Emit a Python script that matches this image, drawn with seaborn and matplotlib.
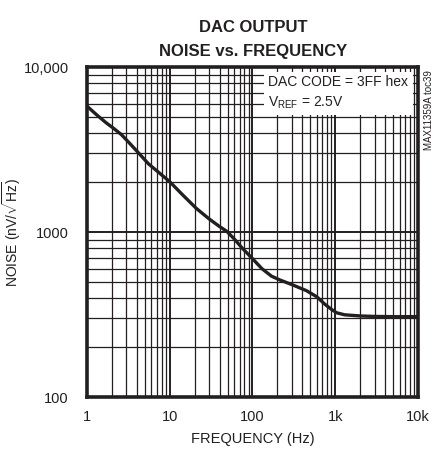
"""
DAC output noise vs. frequency (MAX11359A toc39)
"""

import matplotlib
matplotlib.use('Agg')
import matplotlib.pyplot as plt
import matplotlib.ticker as mticker
import seaborn as sns
import pandas as pd

# Data
freq_hz = [1, 1.3, 1.7, 2.1, 2.6, 3.0, 4.0, 5.5, 7.5, 10, 14, 21, 30, 40, 49,
           60, 75, 100, 130, 170, 215, 300, 450, 600, 750, 900, 1040, 1300,
           2000, 3000, 5000, 10000]
noise_nv = [5800, 5150, 4600, 4250, 3900, 3620, 3100, 2600, 2280, 2020, 1700,
            1390, 1200, 1080, 1010, 910, 800, 690, 600, 540, 512, 480, 441,
            405, 365, 340, 324, 315, 310, 308, 307, 307]

x_ticks = [1, 10, 100, 1000, 10000]
x_tick_labels = ['1', '10', '100', '1k', '10k']
y_ticks = [100, 1000, 10000]
y_tick_labels = ['100', '1000', '10,000']

sns.set_theme(style='white')
plt.rcParams['font.family'] = ['Liberation Sans', 'DejaVu Sans']
plt.rcParams['mathtext.fontset'] = 'custom'
plt.rcParams['mathtext.rm'] = 'Liberation Sans'


def plot_noise():
    df = pd.DataFrame({'freq': freq_hz, 'noise': noise_nv})

    fig = plt.figure(figsize=(4.48, 4.59), dpi=100)
    ax = fig.add_axes([0.194, 0.135, 0.739, 0.719])

    sns.lineplot(data=df, x='freq', y='noise', ax=ax, color='#231f20',
                 linewidth=2.4, zorder=5)

    ax.set_xscale('log')
    ax.set_yscale('log')
    ax.set_xlim(1, 10000)
    ax.set_ylim(100, 10000)

    ax.set_xticks(x_ticks)
    ax.set_xticklabels(x_tick_labels)
    ax.set_yticks(y_ticks)
    ax.set_yticklabels(y_tick_labels)
    ax.xaxis.set_minor_locator(mticker.LogLocator(base=10, subs=range(2, 10)))
    ax.yaxis.set_minor_locator(mticker.LogLocator(base=10, subs=range(2, 10)))
    ax.xaxis.set_minor_formatter(mticker.NullFormatter())
    ax.yaxis.set_minor_formatter(mticker.NullFormatter())
    ax.tick_params(which='both', length=0, labelsize=10.5, colors='#231f20')
    ax.tick_params(axis='x', pad=9)
    ax.tick_params(axis='y', pad=13)

    ax.grid(True, which='major', color='#231f20', linewidth=1.4)
    ax.grid(True, which='minor', color='#231f20', linewidth=0.9)
    for sp in ax.spines.values():
        sp.set_linewidth(2.6)
        sp.set_color('#231f20')

    ax.set_xlabel('FREQUENCY (Hz)', fontsize=10.5, color='#231f20', labelpad=6)
    ax.set_ylabel(r'NOISE (nV/$\sqrt{\mathrm{Hz}}$)', fontsize=10,
                  color='#231f20')
    ax.yaxis.set_label_coords(-0.193, 0.5)

    # Conditions box
    ax.text(0.548, 0.975, 'DAC CODE = 3FF hex\n' + r'V$_{\mathrm{REF}}$ = 2.5V',
            transform=ax.transAxes, ha='left', va='top', fontsize=10,
            color='#231f20', linespacing=1.45, zorder=6,
            bbox=dict(facecolor='white', edgecolor='none', pad=3))

    fig.text(0.958, 0.848, 'MAX11359A toc39', rotation=90, ha='center',
             va='top', fontsize=7, color='#231f20')

    fig.text(0.565, 0.94, 'DAC OUTPUT', ha='center', va='center',
             fontsize=12, fontweight='bold', color='#231f20')
    fig.text(0.565, 0.887, 'NOISE vs. FREQUENCY', ha='center', va='center',
             fontsize=12, fontweight='bold', color='#231f20')

    fig.savefig('out.png', dpi=100, facecolor='white')
    plt.close(fig)


if __name__ == '__main__':
    plot_noise()
